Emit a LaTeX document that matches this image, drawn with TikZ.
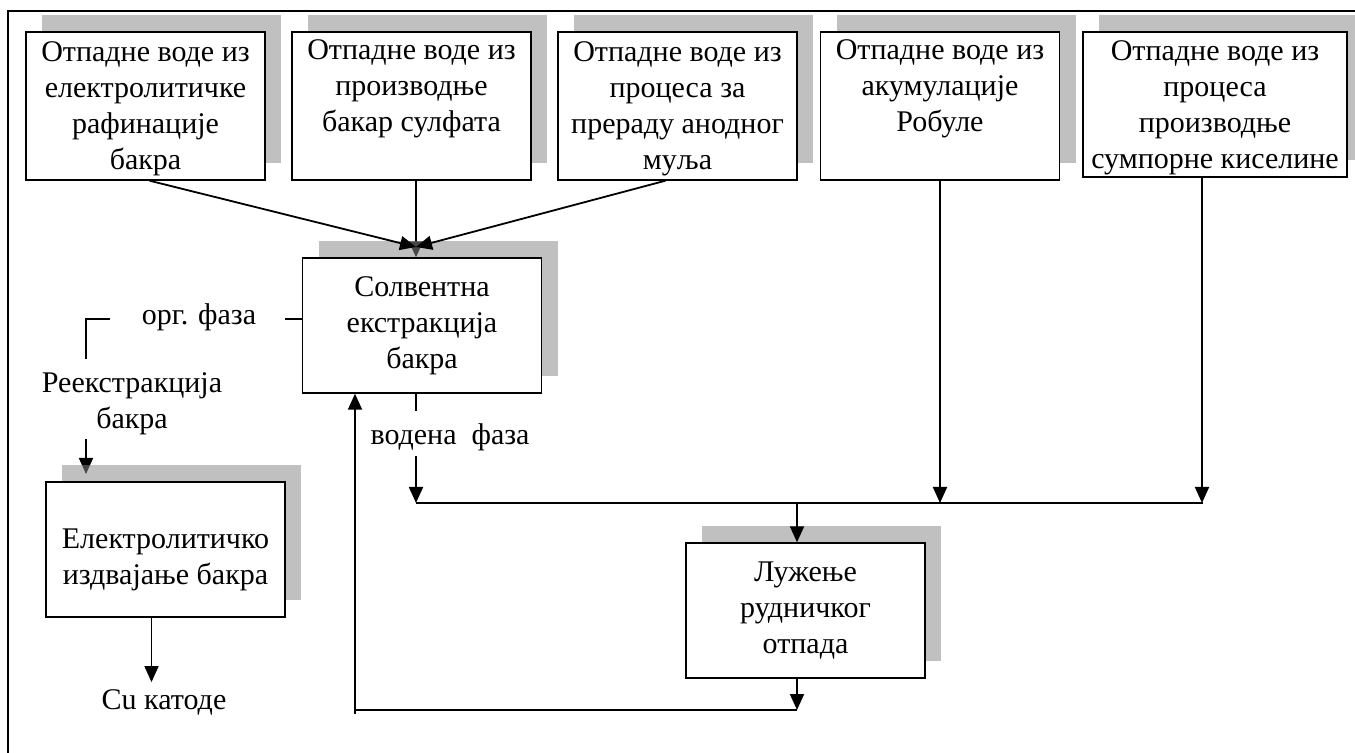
\documentclass[tikz,border=0pt]{standalone}
\usepackage{fontspec}
\setmainfont{Liberation Serif}
\usetikzlibrary{arrows.meta, positioning, calc, shadows, backgrounds}
\colorlet{shadowgray}{black!47}
\newcommand{\topgap}[1]{\rule{0pt}{#1}}

\begin{document}
\begin{tikzpicture}[
  x=0.5pt, y=-0.5pt,
  every node/.style={font=\fontsize{15}{18}\selectfont, align=center},
  block/.style={rectangle, draw, line width=0.7pt, fill=white, inner sep=2pt, minimum width=119.5pt, minimum height=67.5pt, drop shadow={shadow xshift=8pt, shadow yshift=8.5pt, fill=shadowgray, opacity=0.52}},
  source/.style={block, minimum height=74pt, inner ysep=0pt},
  line/.style={line width=0.9pt},
  arrow/.style={line, -{Triangle[length=8pt, width=7pt]}}
]
  \useasboundingbox (0,0) rectangle (1355,753);
  \draw[line width=0.7pt] (8,753) -- (8,11) -- (1355,11);

  % izvori otpadnih voda
  \node[source] (raf) at (145.5,106) {\topgap{13pt}Отпадне воде из\\електролитичке\\рафинације\\бакра};
  \node[source] (sulf) at (411.5,106) {\topgap{13pt}Отпадне воде из\\производње\\бакар сулфата\\\strut};
  \node[source] (mulj) at (677.5,106) {\topgap{13pt}Отпадне воде из\\процеса за\\прераду анодног\\муља};
  \node[source] (rob) at (940,106) {\topgap{13pt}Отпадне воде из\\акумулације\\Робуле\\\strut};
  \node[source, minimum width=132pt, minimum height=72.5pt] (kis) at (1215,104.5) {\topgap{13pt}Отпадне воде из\\процеса\\производње\\сумпорне киселине};

  % procesi
  \node[block] (sx) at (422,325.5) {Солвентна\\екстракција\\бакра};
  \node[block] (ew) at (165.5,549.5) {\topgap{20pt}Електролитичко\\издвајање бакра};
  \node[block] (luz) at (805.5,610.5) {Лужење\\рудничког\\отпада};

  \node (org) at (199,317) {орг. фаза};
  \node (reek) at (132,404) {Реекстракција\\бакра};
  \node (vod) at (450,437) {водена~ фаза};
  \node (cu) at (164,702) {Cu катоде};

  \coordinate (join) at (416,247);
  \coordinate (busL) at (416,503);
  \coordinate (busR) at (1203,503);
  \coordinate (luzin) at (797,503);
  \coordinate (retR) at (797,710);
  \coordinate (retL) at (355,710);
  \coordinate (orgL) at (110,319);
  \coordinate (rkcorner) at (86,319);
  \coordinate (rkend) at (86,359);
  \coordinate (rkstart) at (86,439);
  \coordinate (rktip) at (86,474);
  \coordinate (vodtop) at (416,456);
  \coordinate (rafout) at ($(raf.south)+(4,0)$);
  \coordinate (muljout) at ($(mulj.south)+(-12,0)$);
  \coordinate (kisout) at ($(kis.south)+(-13,0)$);
  \coordinate (ewout) at ($(ew.south)+(-14,0)$);

  % strelice ispod senki
  \begin{scope}[on background layer]
    \draw[arrow] (sulf.south -| join) -- (join |- sx.north);
    \draw[arrow] (rkstart) -- (rktip);
  \end{scope}

  \draw[arrow] (rafout) -- (join);
  \draw[arrow] (muljout) -- (join);
  \draw[arrow] (rob.south) -- (rob.south |- busL);
  \draw[arrow] (kisout) -- (kisout |- busL);
  \draw[line] (busL) -- (busR);
  \draw[line] (sx.south -| busL) -- ++(0,17);
  \draw[arrow] (vodtop) -- (busL);
  \draw[arrow] (luzin) -- (luzin |- luz.north);
  \draw[arrow] (luzin |- luz.south) -- (retR);
  \draw[line] (retR) -- (retL);
  \draw[arrow] ($(retL)+(0,4)$) -- (retL |- sx.south);
  \draw[line] (sx.west |- orgL) -- ++(-17,0);
  \draw[line] (orgL) -- (rkcorner) -- (rkend);
  \draw[arrow] (ewout) -- (ewout |- cu.north);
\end{tikzpicture}
\end{document}
